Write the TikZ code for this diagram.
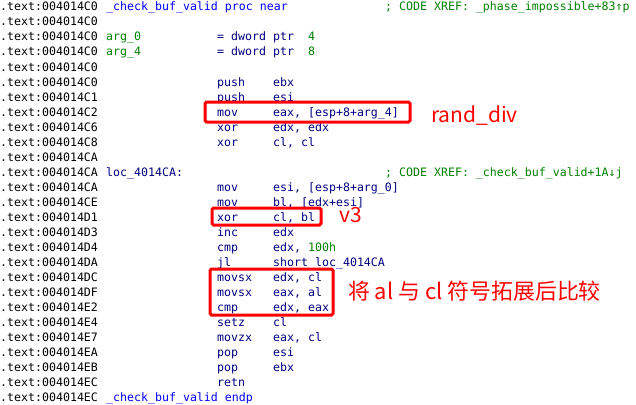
\documentclass[tikz,border=0pt]{standalone}
\usepackage{fontspec}
\newfontfamily\idafont{DejaVu Sans Mono}
\newfontfamily\cjk{Noto Sans CJK SC}
\definecolor{idanavy}{RGB}{0,0,128}
\definecolor{idablue}{RGB}{0,0,255}
\definecolor{idagreen}{RGB}{0,128,0}
\definecolor{notered}{RGB}{255,0,0}
\begin{document}
\begin{tikzpicture}[x=1pt, y=-1pt,
  code/.style = {anchor=base west, inner sep=0pt, font=\idafont\fontsize{11.6}{14}\selectfont},
  addr/.style = {code, text=black},
  ins/.style = {code, text=idanavy},
  lbl/.style = {code, text=idablue},
  cmt/.style = {code, text=idagreen},
  redbox/.style = {draw=red, line width=3pt, rounded corners=1.5pt},
  note/.style = {anchor=base west, inner sep=0pt, text height=15pt, text=notered, font=\cjk\fontsize{21}{24}\selectfont}]
\useasboundingbox (0,0) rectangle (636,404);
% address column
\foreach \a [count=\i from 0] in {C0,C0,C0,C0,C0,C0,C1,C2,C6,C8,CA,CA,CA,CE,D1,D3,D4,DA,DC,DF,E2,E4,E7,EA,EB,EC,EC}
  \node[addr] (a\i) at (0,{15*\i+11}) {.text:004014\a};
% names and comments
\node[lbl] (proc) at (106,11) {\_check\_buf\_valid proc near};
\node[cmt] (xref1) at (385,11) {; CODE XREF: \_phase\_impossible+83↑p};
\node[cmt] (arg0) at (106,41) {arg\_0};
\node[ins] (dw0) at (217,41) {= dword ptr};
\node[cmt] (off0) at (308,41) {4};
\node[cmt] (arg4) at (106,56) {arg\_4};
\node[ins] (dw4) at (217,56) {= dword ptr};
\node[cmt] (off4) at (308,56) {8};
\node[ins] (loc) at (106,176) {loc\_4014CA:};
\node[cmt] (xref2) at (385,176) {; CODE XREF: \_check\_buf\_valid+1A↓j};
\node[lbl] (endp) at (106,401) {\_check\_buf\_valid endp};
% instructions
\foreach \r/\m/\o in {5/push/ebx, 6/push/esi, 7/mov/{eax, [esp+8+arg\_4]}, 8/xor/{edx, edx},
    9/xor/{cl, cl}, 12/mov/{esi, [esp+8+arg\_0]}, 13/mov/{bl, [edx+esi]}, 14/xor/{cl, bl},
    15/inc/edx, 16/cmp/{edx, \textcolor{idagreen}{100h}}, 17/jl/{short loc\_4014CA},
    18/movsx/{edx, cl}, 19/movsx/{eax, al}, 20/cmp/{edx, eax}, 21/setz/cl,
    22/movzx/{eax, cl}, 23/pop/esi, 24/pop/ebx} {
  \node[ins] (m\r) at (217,{15*\r+11}) {\m};
  \node[ins] (o\r) at (273,{15*\r+11}) {\o};
}
\node[ins] (m25) at (217,386) {retn};
% marks
\draw[redbox] (205,102) rectangle (410,122);
\draw[redbox] (212,208) rectangle (321,225);
\draw[redbox] (210,269) rectangle (333,315);
\node[note] (randdiv) at (431,122) {rand\_div};
\node[note, text height=12pt] (v3) at (339,222.5) {v3};
\node[note, font=\cjk\fontsize{21.9}{24}\selectfont] (cmpnote) at (348,299.5) {将 al 与 cl 符号拓展后比较};
\end{tikzpicture}
\end{document}
